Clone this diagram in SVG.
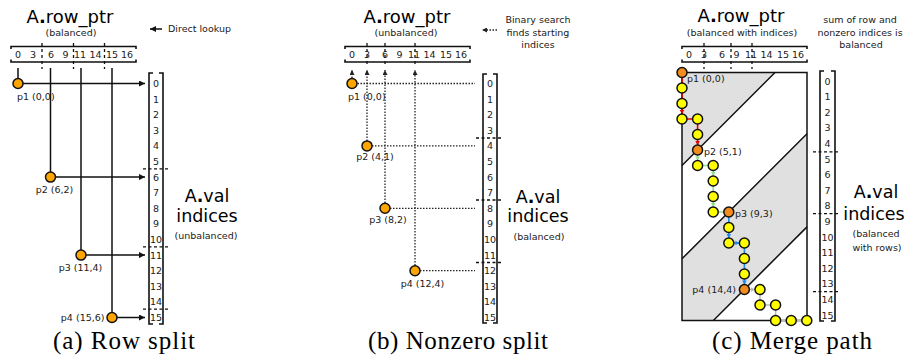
<svg xmlns="http://www.w3.org/2000/svg" width="905" height="358" viewBox="0 0 905 358">
<style>
text{font-family:"DejaVu Sans",Verdana,sans-serif;fill:#1a1a1a}
.title{font-size:18px;text-anchor:middle;fill:#000}
.sm{font-size:9.5px}
.mid{text-anchor:middle}
.end{text-anchor:end}
.big{font-size:17.5px;text-anchor:middle;fill:#000}
.cap{font-family:"Liberation Serif","Times New Roman",serif;font-size:25px;fill:#000}
.br{fill:none;stroke:#111;stroke-width:1.6}
.tick{stroke:#111;stroke-width:1.3;stroke-dasharray:3 3;fill:none}
.div{stroke:#111;stroke-width:1.3;stroke-dasharray:3 2.5;fill:none}
.sol{stroke:#111;stroke-width:1.5;fill:none}
.dot{stroke:#222;stroke-width:1.3;stroke-dasharray:1.5 1.5;fill:none}
.pt{fill:#FFA500;stroke:#111;stroke-width:1.5}
.y{fill:#FFFF00;stroke:#111;stroke-width:1.5}
.o{fill:#F28C1E;stroke:#111;stroke-width:1.5}
.shade{fill:#e0e0e0;stroke:none}
.red{stroke:#e00000;stroke-width:1.6;fill:none}
.grn{stroke:#8fe08f;stroke-width:1.6;fill:none}
.blu{stroke:#1e88f0;stroke-width:1.6;fill:none}
.gry{stroke:#bdbdbd;stroke-width:1.6;fill:none}
</style>
<defs>
<marker id="ah" markerUnits="userSpaceOnUse" markerWidth="7" markerHeight="6" refX="6" refY="3" orient="auto"><path d="M0,0 L6,3 L0,6 z" fill="#111"/></marker>
<marker id="ahs" markerUnits="userSpaceOnUse" markerWidth="6" markerHeight="5" refX="5" refY="2.5" orient="auto"><path d="M0,0 L5,2.5 L0,5 z" fill="#222"/></marker>
<path id="ad" d="M-2.3,-4 L2.3,-4 L0,0 z"/>
<path id="ar" d="M-4,-2.3 L-4,2.3 L0,0 z"/>
</defs>

<!-- ================= Panel (a) ================= -->
<g id="a-rowptr">
<text class="title" x="70" y="23">A<tspan font-weight="bold">.</tspan>row_ptr</text>
<text class="sm mid" x="71" y="35.5">(balanced)</text>
<path class="br" d="M11,49 V46.5 H136 V49 M11,59.5 V62 H136 V59.5"/>
<g class="sm mid">
<text x="18" y="58">0</text><text x="33" y="58">3</text><text x="51" y="58">6</text><text x="65.5" y="58">9</text>
<text x="80" y="58">11</text><text x="95.5" y="58">14</text><text x="112" y="58">15</text><text x="127" y="58">16</text>
</g>
<path class="tick" d="M42,43 V69 M73.5,43 V69 M104.5,43 V69"/>
</g>
<g id="a-note">
<line class="sol" x1="162" y1="29" x2="150" y2="29" marker-end="url(#ah)"/>
<text class="sm" x="168" y="32">Direct lookup</text>
</g>
<g id="a-val">
<path class="br" d="M153,73 H149 V324 H153 M159,73 H163 V324 H159"/>
<g class="sm mid">
<text x="156" y="87">0</text><text x="156" y="102.6">1</text><text x="156" y="118.2">2</text><text x="156" y="133.8">3</text>
<text x="156" y="149.4">4</text><text x="156" y="165">5</text><text x="156" y="180.6">6</text><text x="156" y="196.2">7</text>
<text x="156" y="211.8">8</text><text x="156" y="227.4">9</text><text x="156" y="243">10</text><text x="156" y="258.6">11</text>
<text x="156" y="274.2">12</text><text x="156" y="289.8">13</text><text x="156" y="305.4">14</text><text x="156" y="321">15</text>
</g>
<path class="div" d="M143,168.8 H170 M143,246.8 H170 M143,309.2 H170"/>
<text class="big" x="207" y="202">A<tspan font-weight="bold">.</tspan>val</text>
<text class="big" x="207" y="222">indices</text>
<text class="sm mid" x="206" y="239">(unbalanced)</text>
</g>
<g id="a-connectors">
<path class="sol" d="M18,68 V78.5 M50.5,68 V172 M81,68 V250 M112,68 V312.5"/>
<line class="sol" x1="23" y1="83.5" x2="145" y2="83.5" marker-end="url(#ah)"/>
<line class="sol" x1="55.5" y1="177.1" x2="145" y2="177.1" marker-end="url(#ah)"/>
<line class="sol" x1="86" y1="255.1" x2="145" y2="255.1" marker-end="url(#ah)"/>
<line class="sol" x1="117" y1="317.5" x2="145" y2="317.5" marker-end="url(#ah)"/>
</g>
<g id="a-p1"><circle class="pt" cx="18" cy="83.5" r="5"/><text class="sm" x="17" y="99.5">p1 (0,0)</text></g>
<g id="a-p2"><circle class="pt" cx="50.5" cy="177.1" r="5"/><text class="sm mid" x="54.5" y="193">p2 (6,2)</text></g>
<g id="a-p3"><circle class="pt" cx="81" cy="255.1" r="5"/><text class="sm mid" x="80.5" y="270.5">p3 (11,4)</text></g>
<g id="a-p4"><circle class="pt" cx="112" cy="317.5" r="5"/><text class="sm end" x="104.5" y="321">p4 (15,6)</text></g>
<text class="cap" x="53" y="349" textLength="142" lengthAdjust="spacing">(a) Row split</text>

<!-- ================= Panel (b) ================= -->
<g id="b-rowptr">
<text class="title" x="407" y="23">A<tspan font-weight="bold">.</tspan>row_ptr</text>
<text class="sm mid" x="406" y="35.5">(unbalanced)</text>
<path class="br" d="M345,49 V46.5 H470 V49 M345,59.5 V62 H470 V59.5"/>
<g class="sm mid">
<text x="352" y="58">0</text><text x="367" y="58">3</text><text x="385" y="58">6</text><text x="399.5" y="58">9</text>
<text x="414" y="58">11</text><text x="429.5" y="58">14</text><text x="446" y="58">15</text><text x="461" y="58">16</text>
</g>
<path class="tick" d="M367,43 V66 M385,43 V66 M415,43 V66"/>
</g>
<g id="b-note">
<line class="dot" x1="497" y1="30" x2="482" y2="30" marker-end="url(#ahs)"/>
<text class="sm mid" x="538" y="23">Binary search</text>
<text class="sm mid" x="538" y="36">finds starting</text>
<text class="sm mid" x="538" y="47.5">indices</text>
</g>
<g id="b-val">
<path class="br" d="M487,74 H483 V323 H487 M493,74 H497 V323 H493"/>
<g class="sm mid">
<text x="490" y="87">0</text><text x="490" y="102.6">1</text><text x="490" y="118.2">2</text><text x="490" y="133.8">3</text>
<text x="490" y="149.4">4</text><text x="490" y="165">5</text><text x="490" y="180.6">6</text><text x="490" y="196.2">7</text>
<text x="490" y="211.8">8</text><text x="490" y="227.4">9</text><text x="490" y="243">10</text><text x="490" y="258.6">11</text>
<text x="490" y="274.2">12</text><text x="490" y="289.8">13</text><text x="490" y="305.4">14</text><text x="490" y="321">15</text>
</g>
<path class="div" d="M476,138 H503 M476,200 H503 M476,262.5 H503"/>
<text class="big" x="538" y="203">A<tspan font-weight="bold">.</tspan>val</text>
<text class="big" x="538" y="222">indices</text>
<text class="sm mid" x="539" y="240">(balanced)</text>
</g>
<g id="b-connectors">
<line class="dot" x1="352" y1="78" x2="352" y2="70" marker-end="url(#ahs)"/>
<line class="dot" x1="367" y1="141" x2="367" y2="70" marker-end="url(#ahs)"/>
<line class="dot" x1="385" y1="203" x2="385" y2="70" marker-end="url(#ahs)"/>
<line class="dot" x1="415" y1="265.5" x2="415" y2="70" marker-end="url(#ahs)"/>
<path class="dot" d="M357.5,83.5 H475 M372,145.9 H475 M390,208.3 H475 M420,270.7 H475"/>
</g>
<g id="b-p1"><circle class="pt" cx="352" cy="83.5" r="5"/><text class="sm" x="348" y="100">p1 (0,0)</text></g>
<g id="b-p2"><circle class="pt" cx="367" cy="145.9" r="5"/><text class="sm mid" x="375" y="160">p2 (4,1)</text></g>
<g id="b-p3"><circle class="pt" cx="385" cy="208.3" r="5"/><text class="sm mid" x="388" y="223">p3 (8,2)</text></g>
<g id="b-p4"><circle class="pt" cx="415" cy="270.7" r="5"/><text class="sm mid" x="422.5" y="287">p4 (12,4)</text></g>
<text class="cap" x="368" y="349" textLength="180" lengthAdjust="spacing">(b) Nonzero split</text>

<!-- ================= Panel (c) ================= -->
<g id="c-rowptr">
<text class="title" x="741" y="22">A<tspan font-weight="bold">.</tspan>row_ptr</text>
<text class="sm mid" x="742" y="35.5">(balanced with indices)</text>
<path class="br" d="M682,49 V46.5 H807 V49 M682,59.5 V62 H807 V59.5"/>
<g class="sm mid">
<text x="689" y="58">0</text><text x="704" y="58">3</text><text x="722" y="58">6</text><text x="736.5" y="58">9</text>
<text x="751" y="58">11</text><text x="766.5" y="58">14</text><text x="783" y="58">15</text><text x="798" y="58">16</text>
</g>
<path class="tick" d="M704,43 V69 M731,43 V69 M752,43 V69"/>
</g>
<g id="c-note">
<text class="sm mid" x="860" y="23">sum of row and</text>
<text class="sm mid" x="860" y="36">nonzero indices is</text>
<text class="sm mid" x="861" y="47.5">balanced</text>
</g>
<g id="c-grid">
<polygon class="shade" points="682,72.5 775,72.5 682,165.5"/>
<polygon class="shade" points="807,133.8 807,226.9 713.4,320.5 682,320.5 682,258.8"/>
<rect x="682" y="72.5" width="125" height="248" fill="none" stroke="#111" stroke-width="1.5"/>
<path class="sol" d="M775,72.5 L682,165.5 M807,133.8 L682,258.8 M807,226.9 L713.4,320.5"/>
</g>
<g id="c-val">
<path class="br" d="M824,71 H820 V321 H824 M831,71 H835 V321 H831"/>
<g class="sm mid">
<text x="827.5" y="84.5">0</text><text x="827.5" y="100.1">1</text><text x="827.5" y="115.7">2</text><text x="827.5" y="131.3">3</text>
<text x="827.5" y="146.9">4</text><text x="827.5" y="162.5">5</text><text x="827.5" y="178.1">6</text><text x="827.5" y="193.7">7</text>
<text x="827.5" y="209.3">8</text><text x="827.5" y="224.9">9</text><text x="827.5" y="240.5">10</text><text x="827.5" y="256.1">11</text>
<text x="827.5" y="271.7">12</text><text x="827.5" y="287.3">13</text><text x="827.5" y="302.9">14</text><text x="827.5" y="318.5">15</text>
</g>
<path class="div" d="M813,151.8 H840 M813,213.6 H840 M813,291.6 H840"/>
<text class="big" x="876" y="198">A<tspan font-weight="bold">.</tspan>val</text>
<text class="big" x="874" y="220">indices</text>
<text class="sm mid" x="876" y="237">(balanced</text>
<text class="sm mid" x="877" y="250.5">with rows)</text>
</g>
<g id="c-connectors">
<polyline class="red" points="682,72.5 682,119 697.6,119 697.6,150"/>
<polyline class="grn" points="697.6,150 697.6,165.5 713.2,165.5 713.2,212 728.8,212"/>
<polyline class="blu" points="728.8,212 728.8,243 744.4,243 744.4,289.5"/>
<polyline class="gry" points="744.4,289.5 760,289.5 760,305 775.6,305 775.6,320.5 806.8,320.5"/>
<use href="#ad" x="682" y="114" fill="#e00000"/>
<use href="#ad" x="697.6" y="145" fill="#e00000"/>
<use href="#ad" x="697.6" y="160.5" fill="#8fe08f"/>
<use href="#ad" x="713.2" y="176" fill="#8fe08f"/>
<use href="#ad" x="713.2" y="207" fill="#8fe08f"/>
<use href="#ad" x="728.8" y="238" fill="#1e88f0"/>
<use href="#ar" x="739.4" y="243" fill="#1e88f0"/>
<use href="#ad" x="744.4" y="284.5" fill="#1e88f0"/>
<use href="#ar" x="755" y="289.5" fill="#bdbdbd"/>
</g>
<g id="c-path-steps">
<circle class="y" cx="682" cy="88" r="5"/>
<circle class="y" cx="682" cy="103.5" r="5"/>
<circle class="y" cx="682" cy="119" r="5"/>
<circle class="y" cx="697.6" cy="119" r="5"/>
<circle class="y" cx="697.6" cy="134.5" r="5"/>
<circle class="y" cx="697.6" cy="165.5" r="5"/>
<circle class="y" cx="713.2" cy="165.5" r="5"/>
<circle class="y" cx="713.2" cy="181" r="5"/>
<circle class="y" cx="713.2" cy="196.5" r="5"/>
<circle class="y" cx="713.2" cy="212" r="5"/>
<circle class="y" cx="728.8" cy="227.5" r="5"/>
<circle class="y" cx="728.8" cy="243" r="5"/>
<circle class="y" cx="744.4" cy="243" r="5"/>
<circle class="y" cx="744.4" cy="258.5" r="5"/>
<circle class="y" cx="744.4" cy="274" r="5"/>
<circle class="y" cx="760" cy="289.5" r="5"/>
<circle class="y" cx="760" cy="305" r="5"/>
<circle class="y" cx="775.6" cy="305" r="5"/>
<circle class="y" cx="775.6" cy="320.5" r="5"/>
<circle class="y" cx="791.2" cy="320.5" r="5"/>
<circle class="y" cx="806.8" cy="320.5" r="5"/>
</g>
<g id="c-p1"><circle class="o" cx="682" cy="72.5" r="5"/><text class="sm" x="687" y="82">p1 (0,0)</text></g>
<g id="c-p2"><circle class="o" cx="697.6" cy="150" r="5"/><text class="sm" x="704" y="155">p2 (5,1)</text></g>
<g id="c-p3"><circle class="o" cx="728.8" cy="212" r="5"/><text class="sm" x="735" y="217">p3 (9,3)</text></g>
<g id="c-p4"><circle class="o" cx="744.4" cy="289.5" r="5"/><text class="sm end" x="736" y="293">p4 (14,4)</text></g>
<text class="cap" x="712" y="349" textLength="160" lengthAdjust="spacing">(c) Merge path</text>
</svg>
